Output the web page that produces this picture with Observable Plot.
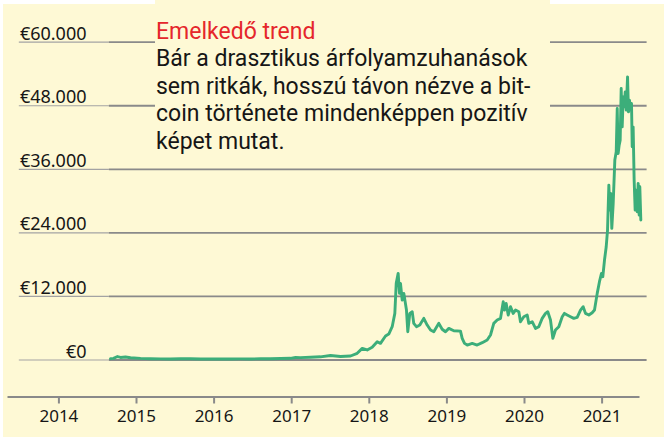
<!DOCTYPE html>
<html>
<head>
<meta charset="utf-8">
<script src="https://cdn.jsdelivr.net/npm/d3@7"></script>
<script src="https://cdn.jsdelivr.net/npm/@observablehq/plot@0.6"></script>
<style>
  body { margin: 0; background: #fff; }
  #wrap { position: relative; width: 664px; height: 437px; background: #fff; overflow: hidden; font-family: "Noto Sans", sans-serif; }
  #bg { position: absolute; left: 3px; top: 4px; right: 0; bottom: 0; background: #fef9d5; }
  #strip { position: absolute; left: 155px; top: 0; width: 395px; height: 6px; background: #fef9d5; }
  #chart { position: absolute; left: 0; top: 0; }
  #note { position: absolute; left: 156px; top: 17.5px; font-family: Roboto, "Noto Sans", sans-serif; }
  #note div { font-size: 23px; line-height: 27.6px; white-space: nowrap; color: #161616; }
  #note .title { color: #e5262b; }
</style>
</head>
<body>
<div id="wrap">
  <div id="bg"></div>
  <div id="strip"></div>
  <div id="chart"></div>
  <div id="note">
    <div class="title">Emelkedő trend</div>
    <div>Bár a drasztikus árfolyamzuhanások</div>
    <div>sem ritkák, hosszú távon nézve a bit-</div>
    <div>coin története mindenképpen pozitív</div>
    <div>képet mutat.</div>
  </div>
</div>
<script>
// Tick values and labels
const yTicks = [0, 12000, 24000, 36000, 48000, 60000];
const yLabels = ["€0", "€12.000", "€24.000", "€36.000", "€48.000", "€60.000"];
const xTicks = [2014, 2015, 2016, 2017, 2018, 2019, 2020, 2021];

// Bitcoin price in EUR, time as decimal year
const years = [
  2014.665, 2014.704, 2014.755, 2014.794, 2014.858, 2014.923, 2015.052, 2015.180, 2015.309, 2015.438,
  2015.567, 2015.696, 2015.825, 2015.954, 2016.082, 2016.211, 2016.340, 2016.469, 2016.598, 2016.727,
  2016.856, 2016.985, 2017.049, 2017.113, 2017.242, 2017.371, 2017.500, 2017.629, 2017.758, 2017.844,
  2017.909, 2017.973, 2018.037, 2018.102, 2018.144, 2018.209, 2018.251, 2018.295, 2018.329, 2018.347,
  2018.372, 2018.389, 2018.402, 2018.424, 2018.445, 2018.479, 2018.496, 2018.522, 2018.553, 2018.573,
  2018.608, 2018.651, 2018.702, 2018.746, 2018.789, 2018.831, 2018.896, 2018.939, 2018.982, 2019.025,
  2019.089, 2019.175, 2019.197, 2019.227, 2019.262, 2019.326, 2019.390, 2019.455, 2019.519, 2019.562,
  2019.604, 2019.648, 2019.691, 2019.726, 2019.742, 2019.764, 2019.790, 2019.820, 2019.854, 2019.884,
  2019.927, 2019.948, 2019.991, 2020.035, 2020.055, 2020.099, 2020.142, 2020.184, 2020.228, 2020.271,
  2020.300, 2020.335, 2020.365, 2020.399, 2020.442, 2020.486, 2020.515, 2020.550, 2020.593, 2020.635,
  2020.679, 2020.722, 2020.756, 2020.786, 2020.829, 2020.872, 2020.902, 2020.937, 2020.966, 2020.992,
  2021.009, 2021.031, 2021.053, 2021.070, 2021.087, 2021.100, 2021.112, 2021.125, 2021.143, 2021.164,
  2021.182, 2021.195, 2021.207, 2021.220, 2021.233, 2021.246, 2021.259, 2021.272, 2021.285, 2021.298,
  2021.311, 2021.328, 2021.340, 2021.353, 2021.366, 2021.379, 2021.388, 2021.400, 2021.413, 2021.426,
  2021.439, 2021.452, 2021.465, 2021.478, 2021.486, 2021.499
];
const prices = [
  250, 300, 650, 480, 560, 420, 300, 250, 220, 200,
  250, 230, 200, 200, 180, 200, 220, 200, 230, 250,
  280, 320, 480, 450, 520, 600, 850, 650, 750, 1260,
  2200, 1890, 2400, 3450, 3140, 4530, 4900, 6280, 8800, 14470,
  16360, 12580, 14470, 11320, 12580, 9430, 5340, 8810, 9110, 6920,
  6290, 6600, 7860, 6600, 5660, 5340, 6920, 5800, 5340, 5970,
  5530, 5450, 4090, 3140, 2830, 3140, 2830, 3270, 3770, 4720,
  6920, 7550, 7860, 11000, 9430, 10690, 8490, 10060, 8800, 9430,
  9110, 7230, 8170, 8490, 6920, 7230, 5970, 6290, 7860, 8800,
  9110, 7550, 4090, 5660, 6290, 8170, 8800, 8490, 8170, 7860,
  8050, 9430, 10060, 8800, 8490, 8930, 9430, 12580, 14780, 16350,
  15720, 18870, 21380, 24530, 33020, 28300, 31450, 24850, 29560, 37740,
  39300, 47490, 39000, 40570, 41510, 51260, 44020, 49680, 47800, 50620,
  47170, 53460, 46850, 49060, 47170, 48430, 40250, 44020, 33960, 28300,
  32080, 27980, 33340, 27360, 32700, 26420
];

// Extent of the grid lines, the label underlines and the gap left for the text box (in years / EUR)
const gridStart = years[0] - 0.015;
const gridEnd = 2021.58;
const labelLineStart = 2013.49;
const noteLeft = 2015.245, noteRight = 2020.335, noteBottom = 40000;

const table = years.map((year, i) => ({year, price: prices[i]}));

// grid segments; the lines under the text box are broken
const gridSegs = yTicks.flatMap(v => v > noteBottom
  ? [{v, x1: gridStart, x2: noteLeft}, {v, x1: noteRight, x2: gridEnd}]
  : [{v, x1: gridStart, x2: gridEnd}]);
const labelSegs = yTicks.map(v => ({v, x1: labelLineStart, x2: gridStart}));

const plot = Plot.plot({
  width: 664,
  height: 437,
  marginLeft: 8,
  marginRight: 26,
  marginTop: 0,
  marginBottom: 40.5,
  style: {background: "transparent", fontFamily: "Noto Sans, sans-serif", overflow: "visible"},
  x: {domain: [2014, 2021], range: [58.4, 601.6], axis: null, label: null},
  y: {domain: [0, 60000], range: [359.5, 41.7], axis: null, label: null},
  marks: [
    Plot.ruleY(labelSegs, {y: "v", x1: "x1", x2: "x2", stroke: "#a3a3a3", strokeWidth: 1.2}),
    Plot.ruleY(gridSegs, {y: "v", x1: "x1", x2: "x2", stroke: "#8a8a8a", strokeWidth: 1.8}),
    Plot.text(yTicks, {
      y: d => d,
      text: (d, i) => yLabels[i],
      frameAnchor: "left",
      dx: 78,
      dy: -2.4,
      textAnchor: "end",
      lineAnchor: "bottom",
      fontSize: 18,
      fill: "#161616"
    }),
    Plot.line(table, {x: "year", y: "price", stroke: "#3cae7a", strokeWidth: 2.9, strokeLinejoin: "round"}),
    Plot.frame({anchor: "bottom", stroke: "#8a8a8a", strokeWidth: 2}),
    Plot.axisX({ticks: xTicks, tickSize: 7, tickFormat: () => "", label: null, color: "#8a8a8a", strokeWidth: 2}),
    Plot.axisX({ticks: xTicks, tickSize: 0, tickPadding: 13, tickFormat: d => String(d), label: null, fontSize: 17, color: "#161616"})
  ]
});
document.getElementById("chart").appendChild(plot);
</script>
</body>
</html>
